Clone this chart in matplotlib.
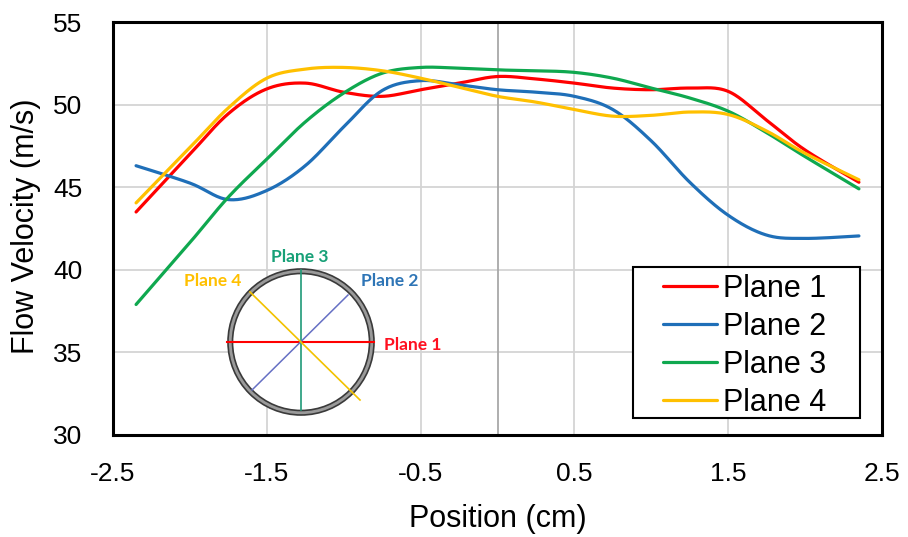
import numpy as np
import matplotlib
matplotlib.use("Agg")
import matplotlib.pyplot as plt
from matplotlib.patches import Circle, Rectangle

# ---------------- data ----------------
positions = [-2.35, -2.0, -1.75, -1.5, -1.25, -1.0, -0.75, -0.5, -0.25, 0.0,
             0.25, 0.5, 0.75, 1.0, 1.25, 1.5, 1.75, 2.0, 2.35]
plane1 = [43.5, 47.0, 49.45, 50.95, 51.3, 50.75, 50.5, 50.9, 51.3, 51.7,
          51.55, 51.3, 51.0, 50.9, 51.0, 50.8, 49.05, 47.25, 45.3]
plane2 = [46.3, 45.25, 44.25, 44.8, 46.3, 48.65, 50.85, 51.45, 51.2, 50.9,
          50.75, 50.5, 49.7, 47.8, 45.3, 43.3, 42.1, 41.9, 42.05]
plane3 = [37.9, 41.65, 44.4, 46.7, 48.95, 50.7, 51.9, 52.25, 52.2, 52.1,
          52.05, 51.95, 51.6, 51.0, 50.4, 49.6, 48.3, 46.85, 44.9]
plane4 = [44.05, 47.4, 49.8, 51.6, 52.15, 52.25, 52.05, 51.6, 51.05, 50.5,
          50.15, 49.7, 49.3, 49.35, 49.55, 49.4, 48.4, 47.05, 45.45]
series_names = ["Plane 1", "Plane 2", "Plane 3", "Plane 4"]
series_values = [plane1, plane2, plane3, plane4]
series_colors = ["#ff0000", "#1f6fb8", "#0fa84f", "#ffc000"]
xticks = [-2.5, -1.5, -0.5, 0.5, 1.5, 2.5]
xtick_labels = ["-2.5", "-1.5", "-0.5", "0.5", "1.5", "2.5"]
yticks = [30, 35, 40, 45, 50, 55]

W, H = 908, 537
FONT = ["Liberation Sans", "DejaVu Sans"]
plt.rcParams["font.family"] = FONT

fig = plt.figure(figsize=(W / 100, H / 100), dpi=100)
L, R, T, B = 113, 882, 22, 435
ax = fig.add_axes([L / W, 1 - B / H, (R - L) / W, (B - T) / H])
ax.set_xlim(-2.5, 2.5)
ax.set_ylim(30, 55)
ax.set_xticks(xticks)
ax.set_xticklabels(xtick_labels)
ax.set_yticks(yticks)
ax.grid(True, color="#d4d4d4", linewidth=1.3)
ax.set_axisbelow(True)
ax.axvline(0, color="#a8a8a8", linewidth=1.3, zorder=0.9)
ax.tick_params(axis="both", length=0, labelsize=19)
ax.tick_params(axis="y", pad=22)
ax.tick_params(axis="x", pad=19.5)
for s in ax.spines.values():
    s.set_linewidth(2.2)
    s.set_color("black")

ax.set_xlabel("Position (cm)", fontsize=22)
ax.set_ylabel("Flow Velocity (m/s)", fontsize=22)
ax.xaxis.set_label_coords(0.5, -0.168)
ax.yaxis.set_label_coords(-0.093, 0.505)


def smooth(ax, x, y, n=30):
    P = ax.transData.transform(np.column_stack([x, y]))
    P = np.vstack([P[0], P, P[-1]])
    t = np.linspace(0, 1, n)[:, None]
    out = []
    for i in range(1, len(P) - 2):
        p0, p1, p2, p3 = P[i - 1], P[i], P[i + 1], P[i + 2]
        c1 = p1 + (p2 - p0) / 6
        c2 = p2 - (p3 - p1) / 6
        seg = ((1 - t) ** 3) * p1 + 3 * ((1 - t) ** 2) * t * c1 + 3 * (1 - t) * t ** 2 * c2 + t ** 3 * p2
        out.append(seg if i == 1 else seg[1:])
    Q = np.vstack(out)
    return ax.transData.inverted().transform(Q)


handles = []
for name, vals, col in zip(series_names, series_values, series_colors):
    S = smooth(ax, positions, vals)
    ln, = ax.plot(S[:, 0], S[:, 1], color=col, linewidth=2.3, label=name,
                  solid_capstyle="round", zorder=3)
    handles.append(ln)

# legend box
fx = lambda px: px / W
fy = lambda py: 1 - py / H
rect = Rectangle((fx(633), fy(418)), fx(860) - fx(633), fy(267) - fy(418),
                 transform=fig.transFigure, facecolor="white", edgecolor="black",
                 linewidth=1.5, zorder=4, clip_on=False)
ax.add_patch(rect)
leg = ax.legend(handles=handles, loc="upper left",
                bbox_to_anchor=(fx(663), fy(274)), bbox_transform=fig.transFigure,
                frameon=False, borderpad=0, borderaxespad=0, fontsize=22,
                handlelength=54 / 30.5, handletextpad=0.2, labelspacing=0.26)
leg.set_zorder(5)

# ---------------- inset pipe diagram ----------------
ix0, ix1, iy0, iy1 = 170, 470, 240, 430
iax = fig.add_axes([fx(ix0), fy(iy1), (ix1 - ix0) / W, (iy1 - iy0) / H])
iax.set_xlim(ix0, ix1)
iax.set_ylim(iy1, iy0)
iax.axis("off")
iax.patch.set_alpha(0)
cx, cy = 301, 342
iax.add_patch(Circle((cx, cy), 73, facecolor="#9a9a9a", edgecolor="#3a3a3a", linewidth=1.2))
iax.add_patch(Circle((cx, cy), 68.5, facecolor="white", edgecolor="#3a3a3a", linewidth=1.2))
iax.plot([cx - 74, cx + 73], [cy, cy], color="#ff0000", linewidth=1.5)
iax.plot([cx, cx], [cy - 72, cy + 68], color="#1f9a78", linewidth=1.2)
iax.plot([cx - 49, cx + 47], [cy + 48, cy - 47], color="#6670c4", linewidth=1.1)
iax.plot([cx - 51, cx + 59], [cy - 50, cy + 58], color="#f2c200", linewidth=1.2)
lab_kw = dict(fontsize=12.5, fontweight="bold", family=["Lato", "DejaVu Sans"],
              ha="center", va="center")
iax.text(300, 257, "Plane 3", color="#17a077", **lab_kw)
iax.text(213, 281, "Plane 4", color="#ffc000", **lab_kw)
iax.text(390, 281, "Plane 2", color="#2e75b6", **lab_kw)
iax.text(413, 345, "Plane 1", color="#ff1020", **lab_kw)

fig.savefig("out.png", dpi=100)
